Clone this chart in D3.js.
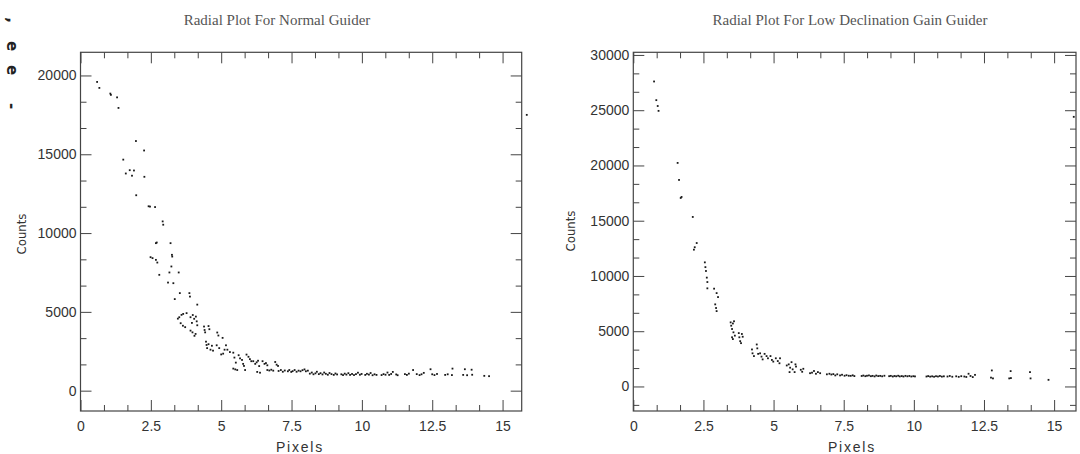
<!DOCTYPE html>
<html>
<head>
<meta charset="utf-8">
<script src="https://cdn.jsdelivr.net/npm/d3@7"></script>
<style>
    html, body { margin: 0; padding: 0; background: #fff; }
    svg { display: block; background: #fff; }
    .plot-title { font-family: "Liberation Serif", "Times New Roman", serif; font-size: 15px; fill: #555; }
    .tick text { font-family: "Liberation Sans", Arial, sans-serif; font-size: 14px; fill: #333; }
    .tick line { stroke: #444; stroke-width: 1; }
    .frame { fill: none; stroke: #444; stroke-width: 1.2; }
    .x-label { font-family: "Liberation Sans", Arial, sans-serif; font-size: 14px; letter-spacing: 1.8px; fill: #333; }
    .y-label { font-family: "DejaVu Sans", sans-serif; font-stretch: condensed; font-size: 13px; fill: #333; }
    .dot { fill: #1a1a1a; }
    .margin-glyph { font-family: "DejaVu Sans", sans-serif; font-size: 15px; font-weight: bold; fill: #222; }
</style>
</head>
<body>
<svg id="chart" width="1080" height="454"></svg>
<script>
// tick values
const xMajorTicks = [0, 2.5, 5, 7.5, 10, 12.5, 15];
const normalYTicks = [0, 5000, 10000, 15000, 20000];
const lowDecYTicks = [0, 5000, 10000, 15000, 20000, 25000, 30000];

// [pixels, counts]
const normalGuider = [
    [0.59, 19590], [0.67, 19210], [1.06, 18850], [1.08, 18770], [1.30, 18610], [1.35, 17940],
    [1.52, 14660], [1.61, 13780], [1.75, 13990], [1.83, 13640], [1.90, 13970], [1.97, 15840], [1.98, 12400],
    [2.26, 15240], [2.27, 13570], [2.42, 11700], [2.47, 11680], [2.65, 11650],
    [2.92, 10740], [2.94, 10530], [2.68, 9360], [2.71, 9400], [2.49, 8470], [2.56, 8410], [2.68, 8300], [2.73, 8130], [2.80, 7350],
    [3.20, 9360], [3.25, 8620], [3.26, 8510], [3.23, 7880], [3.16, 7500], [3.11, 6860], [3.30, 6820], [3.49, 7500],
    [3.35, 5810], [3.53, 6190], [3.87, 6190], [3.89, 5970], [4.15, 5460],
    [3.46, 4570], [3.51, 4660], [3.59, 4810], [3.65, 4870], [3.77, 4920], [3.56, 4280], [3.64, 4120], [3.72, 4030],
    [3.91, 4660], [3.96, 4300], [3.99, 4800], [4.04, 4560], [4.10, 4700], [4.13, 4400], [4.15, 4150],
    [3.91, 3810], [3.98, 3700], [4.05, 3480], [4.09, 3600],
    [4.39, 4070], [4.41, 3850], [4.43, 3700], [4.55, 4100], [4.58, 3900],
    [4.46, 3110], [4.48, 2900], [4.50, 2700], [4.55, 2950], [4.62, 2600], [4.67, 2850], [4.71, 2540],
    [4.86, 3690], [4.90, 3500], [5.05, 3350],
    [4.84, 2880], [4.93, 2700], [5.00, 2300], [5.07, 2350], [5.12, 2600], [5.17, 2880], [5.22, 2600], [5.31, 2450],
    [5.43, 2410], [5.47, 2100], [5.52, 1780], [5.43, 1400], [5.50, 1350], [5.57, 1310],
    [5.62, 2250], [5.67, 2050], [5.74, 1950], [5.78, 1700], [5.81, 1570], [5.85, 1310],
    [5.90, 2290], [5.97, 2150], [6.02, 2000], [6.07, 1870],
    [6.14, 1870], [6.21, 1700], [6.26, 1800], [6.31, 1900], [6.35, 1560], [6.28, 1190], [6.38, 1140],
    [6.47, 1870], [6.54, 1700], [6.59, 1750], [6.64, 1610],
    [6.64, 1310], [6.71, 1280], [6.78, 1330], [6.85, 1270],
    [6.92, 1820], [6.97, 1650], [7.02, 1570],
    [7.04, 1250], [7.12, 1310], [7.19, 1200], [7.26, 1280], [7.37, 1230], [7.42, 1310], [7.49, 1190], [7.54, 1240],
    [7.61, 1310], [7.68, 1200], [7.75, 1270], [7.82, 1230], [7.89, 1300], [7.96, 1350], [8.01, 1230], [8.08, 1270],
    [8.15, 1080], [8.22, 1150], [8.28, 1040], [8.35, 1100], [8.40, 1200], [8.47, 1050], [8.53, 1110], [8.60, 1030],
    [8.66, 1150], [8.72, 1070], [8.79, 1010], [8.85, 1120], [8.92, 1050], [9.00, 1000], [9.06, 1090], [9.12, 1030],
    [9.27, 1040], [9.33, 990], [9.39, 1080], [9.45, 1020], [9.52, 1110], [9.58, 1000], [9.65, 1060], [9.72, 990],
    [9.79, 1050], [9.86, 1140], [9.93, 1010], [9.99, 1060],
    [10.12, 1000], [10.18, 1070], [10.25, 1020], [10.31, 1120], [10.38, 980], [10.45, 1040], [10.52, 1000],
    [10.70, 990], [10.77, 1050], [10.84, 1010], [10.91, 1150], [10.97, 1000], [11.04, 1060], [11.10, 1190],
    [11.22, 1030], [11.27, 980],
    [11.53, 1050], [11.60, 1000], [11.67, 1080], [11.82, 1310], [11.95, 1050], [12.05, 990], [12.12, 1040], [12.20, 1130],
    [12.44, 1360], [12.50, 1040], [12.58, 990], [12.67, 1060], [12.96, 1000], [13.05, 1040], [13.20, 990], [13.22, 1400],
    [13.60, 1000], [13.66, 1360], [13.74, 980], [13.90, 1330], [13.92, 1010], [14.35, 940], [14.52, 920],
    [15.86, 17500]
];

const lowDecGuider = [
    [0.74, 27600], [0.82, 25910], [0.87, 25380], [0.90, 24940],
    [1.58, 20230], [1.63, 18690], [1.69, 17060], [1.72, 17150],
    [2.12, 15340], [2.16, 12380], [2.19, 12600], [2.26, 12980],
    [2.55, 11230], [2.57, 10800], [2.59, 10450], [2.62, 9850], [2.64, 9450], [2.64, 8880], [2.88, 8850],
    [2.97, 8450], [3.02, 8090], [2.92, 7430], [2.95, 7100], [2.97, 6820],
    [3.47, 5800], [3.49, 5500], [3.52, 5200], [3.55, 5700], [3.57, 4900], [3.59, 5900], [3.52, 4450], [3.62, 4600], [3.55, 4290],
    [3.76, 4830], [3.78, 4450], [3.81, 4100], [3.87, 4750], [3.90, 4500], [3.84, 3920],
    [4.23, 3350], [4.25, 3000], [4.30, 2750], [4.40, 3800], [4.42, 3450], [4.45, 2950], [4.52, 3000], [4.57, 2700],
    [4.61, 2450], [4.68, 2950], [4.75, 2750], [4.80, 2550], [4.89, 2750], [4.94, 2400], [4.99, 2250], [5.08, 2550],
    [5.15, 2300], [5.21, 2100], [5.23, 2550],
    [5.47, 1900], [5.54, 2000], [5.59, 1700], [5.64, 2200], [5.68, 1550], [5.78, 2000], [5.80, 1800], [5.75, 1300], [5.57, 1300],
    [5.97, 1510], [6.02, 1330], [6.06, 1600],
    [6.30, 1200], [6.37, 1250], [6.44, 1400], [6.51, 1150], [6.58, 1300], [6.66, 1200],
    [6.90, 1100], [6.99, 1150], [7.06, 1080], [7.13, 1120], [7.20, 1000], [7.27, 1100], [7.37, 1000], [7.44, 1060],
    [7.53, 970], [7.60, 1020], [7.68, 970], [7.75, 960], [7.82, 1010], [7.88, 940],
    [8.14, 950], [8.20, 990], [8.27, 930], [8.33, 970], [8.40, 1000], [8.47, 930], [8.53, 960], [8.60, 910],
    [8.66, 990], [8.73, 940], [8.80, 960], [8.87, 920], [8.95, 970],
    [9.12, 930], [9.18, 960], [9.25, 900], [9.31, 950], [9.37, 920], [9.44, 970], [9.50, 910], [9.57, 940],
    [9.63, 900], [9.70, 960], [9.77, 920], [9.84, 950], [9.91, 900], [9.98, 930], [10.04, 910],
    [10.45, 900], [10.51, 940], [10.58, 890], [10.65, 920], [10.72, 880], [10.79, 930], [10.86, 900], [10.93, 950],
    [11.00, 890], [11.07, 920],
    [11.20, 900], [11.28, 950], [11.37, 880],
    [11.51, 920], [11.60, 870], [11.69, 930], [11.80, 900], [11.87, 860],
    [11.95, 1150], [12.02, 950], [12.10, 850], [12.18, 1050],
    [12.78, 1450], [12.75, 800], [12.82, 730],
    [13.45, 1390], [13.40, 730], [13.46, 760],
    [14.14, 1300], [14.16, 730],
    [14.80, 600],
    [15.70, 24400]
];

const panels = [
    {
        title: 'Radial Plot For Normal Guider',
        data: normalGuider,
        yTicks: normalYTicks,
        xMax: 15.68,
        yDomain: [-1290, 21470],
        left: 80.5, right: 521.7,
        titleX: 277, countsX: 21, countsY: 234, pixelsX: 300
    },
    {
        title: 'Radial Plot For Low Declination Gain Guider',
        data: lowDecGuider,
        yTicks: lowDecYTicks,
        xMax: 15.78,
        yDomain: [-2220, 30240],
        left: 633.3, right: 1076,
        titleX: 850, countsX: 570, countsY: 231, pixelsX: 852
    }
];

const TOP = 52.3;
const BOTTOM = 411;
const MAJOR = 11;
const MINOR = 6;

const svg = d3.select('#chart');

function minorValues(step, domain, majors) {
    const lo = Math.ceil(domain[0] / step);
    const hi = Math.floor(domain[1] / step);
    return d3.range(lo, hi + 1)
        .map(k => k * step)
        .filter(v => !majors.some(m => Math.abs(m - v) < 1e-6));
}

function drawPanel(p) {
    const x = d3.scaleLinear().domain([0, p.xMax]).range([p.left, p.right]);
    const y = d3.scaleLinear().domain(p.yDomain).range([BOTTOM, TOP]);
    const g = svg.append('g');

    const xMinor = minorValues(2.5 / 3, x.domain(), xMajorTicks);
    const yMinor = minorValues(5000 / 3, y.domain(), p.yTicks);

    // bottom axis with labels, ticks pointing inward
    g.append('g')
        .attr('transform', `translate(0,${BOTTOM})`)
        .call(d3.axisBottom(x).tickValues(xMajorTicks).tickSize(-MAJOR).tickPadding(10).tickFormat(d3.format('')))
        .call(a => a.select('.domain').remove());
    g.append('g')
        .attr('transform', `translate(0,${BOTTOM})`)
        .call(d3.axisBottom(x).tickValues(xMinor).tickSize(-MINOR).tickFormat(''))
        .call(a => a.select('.domain').remove());

    // top axis, no labels
    g.append('g')
        .attr('transform', `translate(0,${TOP})`)
        .call(d3.axisTop(x).tickValues(xMajorTicks).tickSize(-MAJOR).tickFormat(''))
        .call(a => a.select('.domain').remove());
    g.append('g')
        .attr('transform', `translate(0,${TOP})`)
        .call(d3.axisTop(x).tickValues(xMinor).tickSize(-MINOR).tickFormat(''))
        .call(a => a.select('.domain').remove());

    // left axis with labels
    g.append('g')
        .attr('transform', `translate(${p.left},0)`)
        .call(d3.axisLeft(y).tickValues(p.yTicks).tickSize(-MAJOR).tickPadding(4).tickFormat(d3.format('d')))
        .call(a => a.select('.domain').remove());
    g.append('g')
        .attr('transform', `translate(${p.left},0)`)
        .call(d3.axisLeft(y).tickValues(yMinor).tickSize(-MINOR).tickFormat(''))
        .call(a => a.select('.domain').remove());

    // right axis, no labels
    g.append('g')
        .attr('transform', `translate(${p.right},0)`)
        .call(d3.axisRight(y).tickValues(p.yTicks).tickSize(-MAJOR).tickFormat(''))
        .call(a => a.select('.domain').remove());
    g.append('g')
        .attr('transform', `translate(${p.right},0)`)
        .call(d3.axisRight(y).tickValues(yMinor).tickSize(-MINOR).tickFormat(''))
        .call(a => a.select('.domain').remove());

    g.append('rect')
        .attr('class', 'frame')
        .attr('x', p.left)
        .attr('y', TOP)
        .attr('width', p.right - p.left)
        .attr('height', BOTTOM - TOP);

    g.selectAll('.dot')
        .data(p.data)
        .enter()
        .append('rect')
        .attr('class', 'dot')
        .attr('x', d => x(d[0]) - 0.9)
        .attr('y', d => y(d[1]) - 0.9)
        .attr('width', 1.8)
        .attr('height', 1.8);

    g.append('text')
        .attr('class', 'plot-title')
        .attr('x', p.titleX)
        .attr('y', 25)
        .attr('text-anchor', 'middle')
        .text(p.title);

    g.append('text')
        .attr('class', 'x-label')
        .attr('x', p.pixelsX)
        .attr('y', 452)
        .attr('text-anchor', 'middle')
        .text('Pixels');

    g.append('text')
        .attr('class', 'y-label')
        .attr('transform', `translate(${p.countsX},${p.countsY}) rotate(-90)`)
        .attr('text-anchor', 'middle')
        .attr('dy', '0.35em')
        .text('Counts');
}

panels.forEach(drawPanel);

// bits of a rotated caption that bleed in from the scanned page edge
const marginGlyphs = [',', 'e', 'e', '-'];
const marginY = [20, 46, 70, 106];
svg.append('g')
    .selectAll('text')
    .data(marginGlyphs)
    .enter()
    .append('text')
    .attr('class', 'margin-glyph')
    .attr('transform', (d, i) => `translate(7,${marginY[i]}) rotate(90)`)
    .attr('text-anchor', 'middle')
    .text(d => d);
</script>
</body>
</html>
